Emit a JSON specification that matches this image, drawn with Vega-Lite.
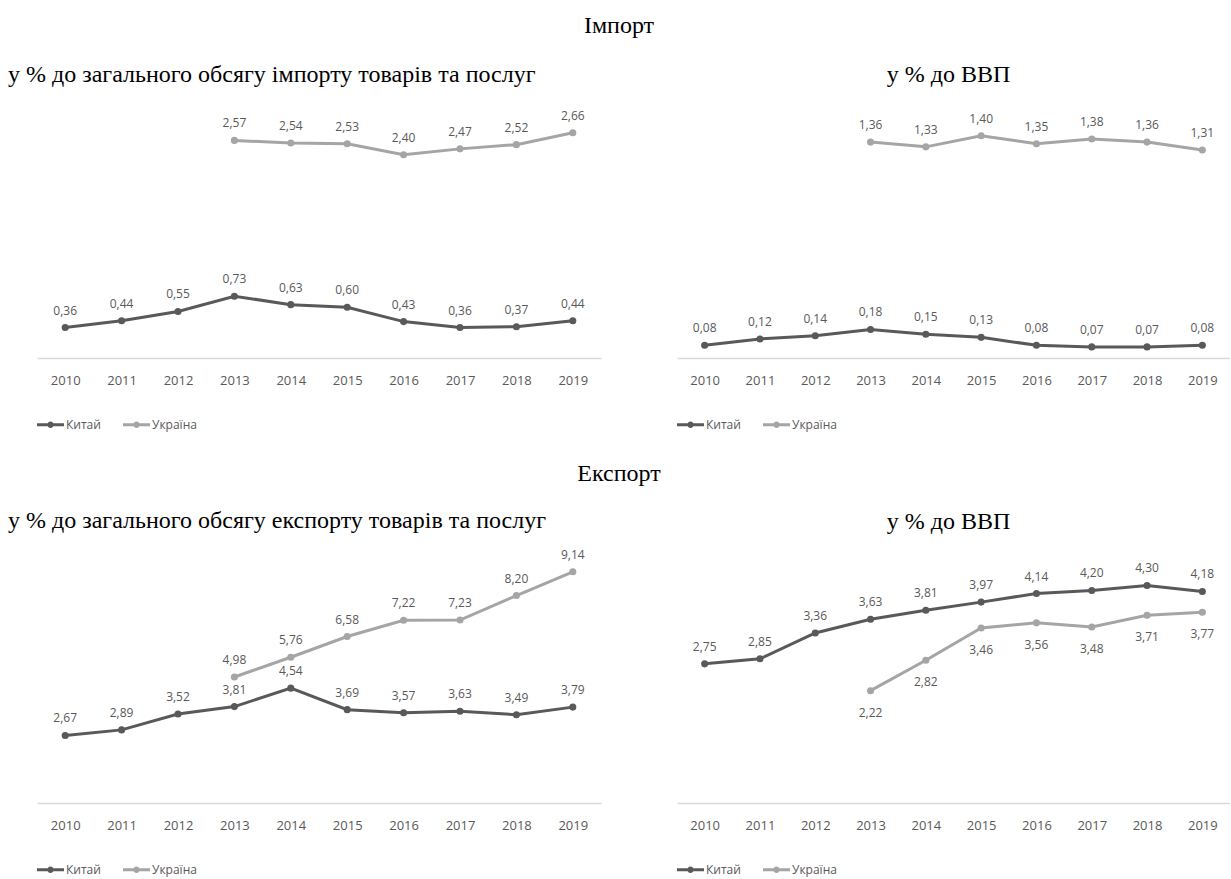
{
  "$schema": "https://vega.github.io/schema/vega-lite/v6.json",
  "background": "white",
  "padding": {"left": 8, "top": 14, "right": 0, "bottom": 8},
  "config": {
    "locale": {"number": {"decimal": ",", "thousands": " ", "grouping": [3], "currency": ["", ""]}},
    "view": {"stroke": null},
    "font": "Open Sans",
    "title": {"font": "Liberation Serif", "fontSize": 24, "fontWeight": "normal", "color": "#000000"},
    "axisX": {"title": null, "labelAngle": 0, "ticks": false, "grid": false, "domainColor": "#d9d9d9", "domainWidth": 1.5, "labelColor": "#595959", "labelFontSize": 13, "labelPadding": 16, "labelFont": "Open Sans"},
    "legend": {"orient": "bottom", "direction": "horizontal", "labelFontSize": 12, "labelColor": "#595959", "labelFont": "Open Sans", "symbolType": "M-1,-0.11H1V0.11H-1Z M0.24,0A0.24,0.24,0,1,1,-0.24,0A0.24,0.24,0,1,1,0.24,0Z", "symbolSize": 729, "symbolStrokeWidth": 0, "columnPadding": 22, "labelOffset": 2, "offset": 24}
  },
  "datasets": {
    "d": [
      {"panel": "imp_share", "country": "Китай", "year": "2010", "value": 0.36},
      {"panel": "imp_share", "country": "Китай", "year": "2011", "value": 0.44},
      {"panel": "imp_share", "country": "Китай", "year": "2012", "value": 0.55},
      {"panel": "imp_share", "country": "Китай", "year": "2013", "value": 0.73},
      {"panel": "imp_share", "country": "Китай", "year": "2014", "value": 0.63},
      {"panel": "imp_share", "country": "Китай", "year": "2015", "value": 0.60},
      {"panel": "imp_share", "country": "Китай", "year": "2016", "value": 0.43},
      {"panel": "imp_share", "country": "Китай", "year": "2017", "value": 0.36},
      {"panel": "imp_share", "country": "Китай", "year": "2018", "value": 0.37},
      {"panel": "imp_share", "country": "Китай", "year": "2019", "value": 0.44},
      {"panel": "imp_share", "country": "Україна", "year": "2013", "value": 2.57},
      {"panel": "imp_share", "country": "Україна", "year": "2014", "value": 2.54},
      {"panel": "imp_share", "country": "Україна", "year": "2015", "value": 2.53},
      {"panel": "imp_share", "country": "Україна", "year": "2016", "value": 2.40},
      {"panel": "imp_share", "country": "Україна", "year": "2017", "value": 2.47},
      {"panel": "imp_share", "country": "Україна", "year": "2018", "value": 2.52},
      {"panel": "imp_share", "country": "Україна", "year": "2019", "value": 2.66},
      {"panel": "imp_gdp", "country": "Китай", "year": "2010", "value": 0.08},
      {"panel": "imp_gdp", "country": "Китай", "year": "2011", "value": 0.12},
      {"panel": "imp_gdp", "country": "Китай", "year": "2012", "value": 0.14},
      {"panel": "imp_gdp", "country": "Китай", "year": "2013", "value": 0.18},
      {"panel": "imp_gdp", "country": "Китай", "year": "2014", "value": 0.15},
      {"panel": "imp_gdp", "country": "Китай", "year": "2015", "value": 0.13},
      {"panel": "imp_gdp", "country": "Китай", "year": "2016", "value": 0.08},
      {"panel": "imp_gdp", "country": "Китай", "year": "2017", "value": 0.07},
      {"panel": "imp_gdp", "country": "Китай", "year": "2018", "value": 0.07},
      {"panel": "imp_gdp", "country": "Китай", "year": "2019", "value": 0.08},
      {"panel": "imp_gdp", "country": "Україна", "year": "2013", "value": 1.36},
      {"panel": "imp_gdp", "country": "Україна", "year": "2014", "value": 1.33},
      {"panel": "imp_gdp", "country": "Україна", "year": "2015", "value": 1.40},
      {"panel": "imp_gdp", "country": "Україна", "year": "2016", "value": 1.35},
      {"panel": "imp_gdp", "country": "Україна", "year": "2017", "value": 1.38},
      {"panel": "imp_gdp", "country": "Україна", "year": "2018", "value": 1.36},
      {"panel": "imp_gdp", "country": "Україна", "year": "2019", "value": 1.31},
      {"panel": "exp_share", "country": "Китай", "year": "2010", "value": 2.67},
      {"panel": "exp_share", "country": "Китай", "year": "2011", "value": 2.89},
      {"panel": "exp_share", "country": "Китай", "year": "2012", "value": 3.52},
      {"panel": "exp_share", "country": "Китай", "year": "2013", "value": 3.81},
      {"panel": "exp_share", "country": "Китай", "year": "2014", "value": 4.54},
      {"panel": "exp_share", "country": "Китай", "year": "2015", "value": 3.69},
      {"panel": "exp_share", "country": "Китай", "year": "2016", "value": 3.57},
      {"panel": "exp_share", "country": "Китай", "year": "2017", "value": 3.63},
      {"panel": "exp_share", "country": "Китай", "year": "2018", "value": 3.49},
      {"panel": "exp_share", "country": "Китай", "year": "2019", "value": 3.79},
      {"panel": "exp_share", "country": "Україна", "year": "2013", "value": 4.98},
      {"panel": "exp_share", "country": "Україна", "year": "2014", "value": 5.76},
      {"panel": "exp_share", "country": "Україна", "year": "2015", "value": 6.58},
      {"panel": "exp_share", "country": "Україна", "year": "2016", "value": 7.22},
      {"panel": "exp_share", "country": "Україна", "year": "2017", "value": 7.23},
      {"panel": "exp_share", "country": "Україна", "year": "2018", "value": 8.20},
      {"panel": "exp_share", "country": "Україна", "year": "2019", "value": 9.14},
      {"panel": "exp_gdp", "country": "Китай", "year": "2010", "value": 2.75},
      {"panel": "exp_gdp", "country": "Китай", "year": "2011", "value": 2.85},
      {"panel": "exp_gdp", "country": "Китай", "year": "2012", "value": 3.36},
      {"panel": "exp_gdp", "country": "Китай", "year": "2013", "value": 3.63},
      {"panel": "exp_gdp", "country": "Китай", "year": "2014", "value": 3.81},
      {"panel": "exp_gdp", "country": "Китай", "year": "2015", "value": 3.97},
      {"panel": "exp_gdp", "country": "Китай", "year": "2016", "value": 4.14},
      {"panel": "exp_gdp", "country": "Китай", "year": "2017", "value": 4.20},
      {"panel": "exp_gdp", "country": "Китай", "year": "2018", "value": 4.30},
      {"panel": "exp_gdp", "country": "Китай", "year": "2019", "value": 4.18},
      {"panel": "exp_gdp", "country": "Україна", "year": "2013", "value": 2.22},
      {"panel": "exp_gdp", "country": "Україна", "year": "2014", "value": 2.82},
      {"panel": "exp_gdp", "country": "Україна", "year": "2015", "value": 3.46},
      {"panel": "exp_gdp", "country": "Україна", "year": "2016", "value": 3.56},
      {"panel": "exp_gdp", "country": "Україна", "year": "2017", "value": 3.48},
      {"panel": "exp_gdp", "country": "Україна", "year": "2018", "value": 3.71},
      {"panel": "exp_gdp", "country": "Україна", "year": "2019", "value": 3.77}
    ]
  },
  "resolve": {"scale": {"color": "independent", "y": "independent", "x": "independent"}, "legend": {"color": "independent"}},
  "spacing": 30,
  "vconcat": [
    {
      "title": {"text": "Імпорт", "anchor": "middle", "offset": 25},
      "spacing": 76,
      "resolve": {"scale": {"color": "independent", "y": "independent", "x": "independent"}, "legend": {"color": "independent"}},
      "hconcat": [
        {
          "width": 564, "height": 254,
          "title": {"text": "у % до загального обсягу імпорту товарів та послуг", "anchor": "start", "dx": -29, "offset": 17},
          "data": {"name": "d"},
          "transform": [{"filter": "datum.panel === 'imp_share'"}],
          "encoding": {
            "x": {"field": "year", "type": "ordinal"},
            "y": {"field": "value", "type": "quantitative", "scale": {"domain": [0, 3]}, "axis": null}
          },
          "layer": [
            {"transform": [{"filter": "datum.country === 'Китай'"}], "mark": {"type": "line", "strokeWidth": 3, "color": "#595959"}},
            {"transform": [{"filter": "datum.country === 'Україна'"}], "mark": {"type": "line", "strokeWidth": 3, "color": "#a5a5a5"}},
            {"mark": {"type": "point", "filled": true, "size": 50, "opacity": 1}, "encoding": {"color": {"field": "country", "type": "nominal", "title": null, "scale": {"domain": ["Китай", "Україна"], "range": ["#595959", "#a5a5a5"]}}}},
            {"mark": {"type": "text", "dy": -17, "fontSize": 12, "font": "Open Sans", "color": "#595959"}, "encoding": {"text": {"field": "value", "type": "quantitative", "format": ".2f"}}}
          ]
        },
        {
          "width": 553, "height": 254,
          "title": {"text": "у % до ВВП", "anchor": "middle", "dx": -5, "offset": 17},
          "data": {"name": "d"},
          "transform": [{"filter": "datum.panel === 'imp_gdp'"}],
          "encoding": {
            "x": {"field": "year", "type": "ordinal"},
            "y": {"field": "value", "type": "quantitative", "scale": {"domain": [0, 1.6]}, "axis": null}
          },
          "layer": [
            {"transform": [{"filter": "datum.country === 'Китай'"}], "mark": {"type": "line", "strokeWidth": 3, "color": "#595959"}},
            {"transform": [{"filter": "datum.country === 'Україна'"}], "mark": {"type": "line", "strokeWidth": 3, "color": "#a5a5a5"}},
            {"mark": {"type": "point", "filled": true, "size": 50, "opacity": 1}, "encoding": {"color": {"field": "country", "type": "nominal", "title": null, "scale": {"domain": ["Китай", "Україна"], "range": ["#595959", "#a5a5a5"]}}}},
            {"mark": {"type": "text", "dy": -17, "fontSize": 12, "font": "Open Sans", "color": "#595959"}, "encoding": {"text": {"field": "value", "type": "quantitative", "format": ".2f"}}}
          ]
        }
      ]
    },
    {
      "title": {"text": "Експорт", "anchor": "middle", "offset": 23},
      "spacing": 76,
      "resolve": {"scale": {"color": "independent", "y": "independent", "x": "independent"}, "legend": {"color": "independent"}},
      "hconcat": [
        {
          "width": 564, "height": 253,
          "title": {"text": "у % до загального обсягу експорту товарів та послуг", "anchor": "start", "dx": -29, "offset": 16},
          "data": {"name": "d"},
          "transform": [{"filter": "datum.panel === 'exp_share'"}],
          "encoding": {
            "x": {"field": "year", "type": "ordinal"},
            "y": {"field": "value", "type": "quantitative", "scale": {"domain": [0, 10]}, "axis": null}
          },
          "layer": [
            {"transform": [{"filter": "datum.country === 'Китай'"}], "mark": {"type": "line", "strokeWidth": 3, "color": "#595959"}},
            {"transform": [{"filter": "datum.country === 'Україна'"}], "mark": {"type": "line", "strokeWidth": 3, "color": "#a5a5a5"}},
            {"mark": {"type": "point", "filled": true, "size": 50, "opacity": 1}, "encoding": {"color": {"field": "country", "type": "nominal", "title": null, "scale": {"domain": ["Китай", "Україна"], "range": ["#595959", "#a5a5a5"]}}}},
            {"mark": {"type": "text", "dy": -17, "fontSize": 12, "font": "Open Sans", "color": "#595959"}, "encoding": {"text": {"field": "value", "type": "quantitative", "format": ".2f"}}}
          ]
        },
        {
          "width": 553, "height": 253,
          "title": {"text": "у % до ВВП", "anchor": "middle", "dx": -5, "offset": 16},
          "data": {"name": "d"},
          "transform": [{"filter": "datum.panel === 'exp_gdp'"}],
          "encoding": {
            "x": {"field": "year", "type": "ordinal"},
            "y": {"field": "value", "type": "quantitative", "scale": {"domain": [0, 5]}, "axis": null}
          },
          "layer": [
            {"transform": [{"filter": "datum.country === 'Китай'"}], "mark": {"type": "line", "strokeWidth": 3, "color": "#595959"}},
            {"transform": [{"filter": "datum.country === 'Україна'"}], "mark": {"type": "line", "strokeWidth": 3, "color": "#a5a5a5"}},
            {"mark": {"type": "point", "filled": true, "size": 50, "opacity": 1}, "encoding": {"color": {"field": "country", "type": "nominal", "title": null, "scale": {"domain": ["Китай", "Україна"], "range": ["#595959", "#a5a5a5"]}}}},
            {"transform": [{"filter": "datum.country === 'Китай'"}], "mark": {"type": "text", "dy": -17, "fontSize": 12, "font": "Open Sans", "color": "#595959"}, "encoding": {"text": {"field": "value", "type": "quantitative", "format": ".2f"}}},
            {"transform": [{"filter": "datum.country === 'Україна'"}], "mark": {"type": "text", "dy": 22, "fontSize": 12, "font": "Open Sans", "color": "#595959"}, "encoding": {"text": {"field": "value", "type": "quantitative", "format": ".2f"}}}
          ]
        }
      ]
    }
  ]
}
